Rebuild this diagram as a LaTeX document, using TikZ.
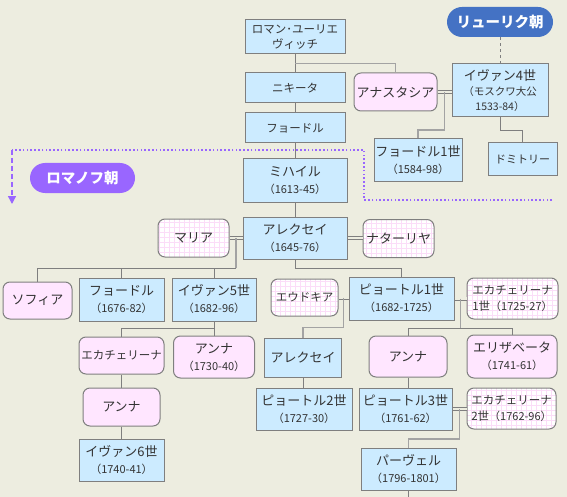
\documentclass[tikz,border=0pt]{standalone}
\usepackage{fontspec}
\setmainfont{Noto Sans CJK JP}
\usetikzlibrary{calc,arrows.meta}
\definecolor{bg}{HTML}{EDEDE0}
\definecolor{bluef}{HTML}{CCEBFF}
\definecolor{pinkf}{HTML}{FFE6FF}
\definecolor{edgec}{HTML}{7F7F7F}
\definecolor{lline}{HTML}{A3A3A3}
\definecolor{ryu}{HTML}{4472C4}
\definecolor{rom}{HTML}{9966FF}
\definecolor{gridc}{HTML}{FBDDF8}
\definecolor{txt}{HTML}{333333}
\newcommand\yrs[1]{{\fontsize{11}{14}\selectfont #1}}
\tikzset{
 base/.style={draw=edgec, line width=1pt, align=center, inner sep=0pt, text=txt,
   font=\fontsize{13}{17}\selectfont},
 wh/.style 2 args={minimum width=#1pt, minimum height=#2pt},
 blu/.style={base, fill=bluef, rectangle},
 pnk/.style={base, fill=pinkf, rounded corners=7pt},
 chk/.style={base, fill=white, rounded corners=7pt,
   path picture={\draw[gridc, line width=0.7pt, step=5pt]
     (path picture bounding box.south west) grid (path picture bounding box.north east);}},
 pill/.style={rounded corners=15pt, text=white, inner sep=0pt,
   font=\fontsize{14.5}{16}\selectfont\bfseries},
 thin1/.style={draw=edgec, line width=1pt},
 thick1/.style={draw=lline, line width=1.8pt},
 marry/.style={draw=edgec, line width=0.9pt, double=bg, double distance=2.2pt},
}
\begin{document}
\begin{tikzpicture}[x=1pt,y=-1pt]
\fill[bg] (0,0) rectangle (567,497);
\useasboundingbox (0,0) rectangle (567,497);

% top section
\node[blu, wh={100}{34}, font=\fontsize{11.5}{15}\selectfont] (roman) at (295,37) {ロマン･ユーリエ\\ヴィッチ};
\node[blu, wh={100}{30}, font=\fontsize{11.5}{15}\selectfont] (nikita) at (295,88) {ニキータ};
\node[blu, wh={100}{30}, font=\fontsize{11.5}{15}\selectfont] (fyodor0) at (295,128) {フョードル};
\node[pnk, wh={83}{38}] (anastasia) at (395.5,92) {アナスタシア};
\node[blu, wh={96}{53}, font=\fontsize{13}{15}\selectfont] (ivan4) at (500,90.5) {イヴァン4世\\{\fontsize{10.5}{15}\selectfont（モスクワ大公}\\{\fontsize{10.5}{15}\selectfont 1533-84）}};
\node[pill, fill=ryu, wh={106}{30}] (ryurik) at (500,22) {リューリク朝};
\node[blu, wh={88}{43}] (fyodor1) at (418,160.5) {フョードル1世\\\yrs{（1584-98）}};
\node[blu, wh={69}{33}, font=\fontsize{11}{14}\selectfont] (dmitri) at (522.5,159.5) {ドミトリー};

% Romanov
\node[pill, fill=rom, wh={105}{30}] (romanov) at (82.5,178) {ロマノフ朝};
\node[blu, wh={104}{43}] (mikhail) at (295,180.5) {ミハイル\\\yrs{（1613-45）}};
\node[blu, wh={104}{42}] (alexei) at (295,238) {アレクセイ\\\yrs{（1645-76）}};
\node[chk, wh={71}{38}] (maria) at (193.5,238) {マリア};
\node[chk, wh={71}{38}] (natalya) at (398.5,238.5) {ナターリヤ};

\node[pnk, wh={69}{37}] (sofia) at (37.5,300.5) {ソフィア};
\node[blu, wh={85}{43}] (fyodor3) at (121.5,299.5) {フョードル\\\yrs{（1676-82）}};
\node[blu, wh={84}{43}] (ivan5) at (214,299.5) {イヴァン5世\\\yrs{（1682-96）}};
\node[pnk, wh={85}{37}, font=\fontsize{11.5}{15}\selectfont] (ekaterina) at (121.5,355.5) {エカチェリーナ};
\node[pnk, wh={81}{42}] (anna1730) at (214,357) {アンナ\\\yrs{（1730-40）}};
\node[pnk, wh={77}{38}] (annaM) at (121.5,407) {アンナ};
\node[blu, wh={85}{42}] (ivan6) at (121.5,460) {イヴァン6世\\\yrs{（1740-41）}};

\node[chk, wh={67}{37}, font=\fontsize{11.5}{15}\selectfont] (eudokia) at (304.5,297.5) {エウドキア};
\node[blu, wh={105}{43}] (peter1) at (401.5,298.5) {ピョートル1世\\\yrs{（1682-1725）}};
\node[chk, wh={91}{41}, font=\fontsize{11.5}{16}\selectfont] (ekaterina1) at (512.5,298.5) {エカチェリーナ\\1世\yrs{（1725-27）}};
\node[blu, wh={77}{39}] (alexei2) at (303,357.5) {アレクセイ};
\node[pnk, wh={78}{41}] (anna2) at (408,356.5) {アンナ};
\node[pnk, wh={90}{43}] (elizaveta) at (512,356.5) {エリザベータ\\\yrs{（1741-61）}};
\node[blu, wh={96}{42}] (peter2) at (304,409) {ピョートル2世\\\yrs{（1727-30）}};
\node[blu, wh={93}{42}] (peter3) at (405.5,409) {ピョートル3世\\\yrs{（1761-62）}};
\node[chk, wh={89}{41}, font=\fontsize{11.5}{16}\selectfont] (ekaterina2) at (511.5,408.5) {エカチェリーナ\\2世\yrs{（1762-96）}};
\node[blu, wh={95}{42}] (pavel) at (408.5,469) {パーヴェル\\\yrs{（1796-1801）}};
\coordinate (pend) at (408.5,497);

% connectors: top
\draw[thin1] (roman) -- (nikita);
\draw[thin1] (nikita) -- (fyodor0);
\draw[thin1] (fyodor0) -- (mikhail);
\draw[thin1] (mikhail) -- (alexei);
\draw[thick1] (roman.south) ++(0,9) -| (anastasia.north);
\draw[dashed, edgec, line width=1pt] (ryurik) -- (ivan4);
\draw[marry] (anastasia.east) -- (anastasia.east -| ivan4.west);
\coordinate (m1) at ($(anastasia.east)!.5!(anastasia.east -| ivan4.west)$);
\draw[thick1] (m1) -- ++(0,38) -| (fyodor1.north);
\draw[thin1] (ivan4.south) -- ++(0,13) -| (dmitri.north);

% purple border
\draw[rom, line width=1.6pt, dash pattern=on 1.6pt off 2.2pt] (552,200) -- (364,200) -- (364,150) -- (12,150);
\draw[rom, line width=1.3pt, dash pattern=on 5pt off 3pt, -{Triangle[width=8pt,length=8pt]}] (12,150) -- (12,204);

% Alexei's marriages
\draw[marry] (maria.east) -- (maria.east -| alexei.west);
\coordinate (m2) at ($(maria.east)!.5!(maria.east -| alexei.west)$);
\draw[thick1] (m2) -- ++(0,30) coordinate (b2);
\draw[thin1] (b2) -| (sofia.north);
\draw[thin1] (b2) -| (fyodor3.north);
\draw[thin1] (b2) -| (ivan5.north);
\draw[marry] (alexei.east) -- (alexei.east -| natalya.west);
\draw[thin1] (alexei.south) -- ++(0,9) -| (peter1.north);

% Ivan V line
\draw[thin1] (ivan5.south) -- ++(0,7) coordinate (b5);
\draw[thin1] (b5) -| (ekaterina.north);
\draw[thin1] (b5) -| (anna1730.north);
\draw[thin1] (ekaterina) -- (annaM);
\draw[thin1] (annaM) -- (ivan6);

% Peter I
\draw[marry] (eudokia.east) -- (eudokia.east -| peter1.west);
\coordinate (m3) at ($(eudokia.east)!.5!(eudokia.east -| peter1.west)$);
\draw[thick1] (m3) -- ++(0,30) -| (alexei2.north);
\draw[marry] (peter1.east) -- (peter1.east -| ekaterina1.west);
\coordinate (m4) at ($(peter1.east)!.5!(peter1.east -| ekaterina1.west)$);
\draw[thick1] (m4) -- ++(0,29.5) coordinate (b4);
\draw[thin1] (b4) -| (anna2.north);
\draw[thin1] (b4) -| (elizaveta.north);
\draw[thin1] (alexei2.south) -- (alexei2.south |- peter2.north);
\draw[thin1] (anna2.south) -- (anna2.south |- peter3.north);

% Peter III
\draw[marry] (peter3.east) -- (peter3.east -| ekaterina2.west);
\coordinate (m5) at ($(peter3.east)!.5!(peter3.east -| ekaterina2.west)$);
\draw[thick1] (m5) -- ++(0,30) -| (pavel.north);
\draw[thin1] (pavel.south) -- (pavel.south |- pend);
\end{tikzpicture}
\end{document}
